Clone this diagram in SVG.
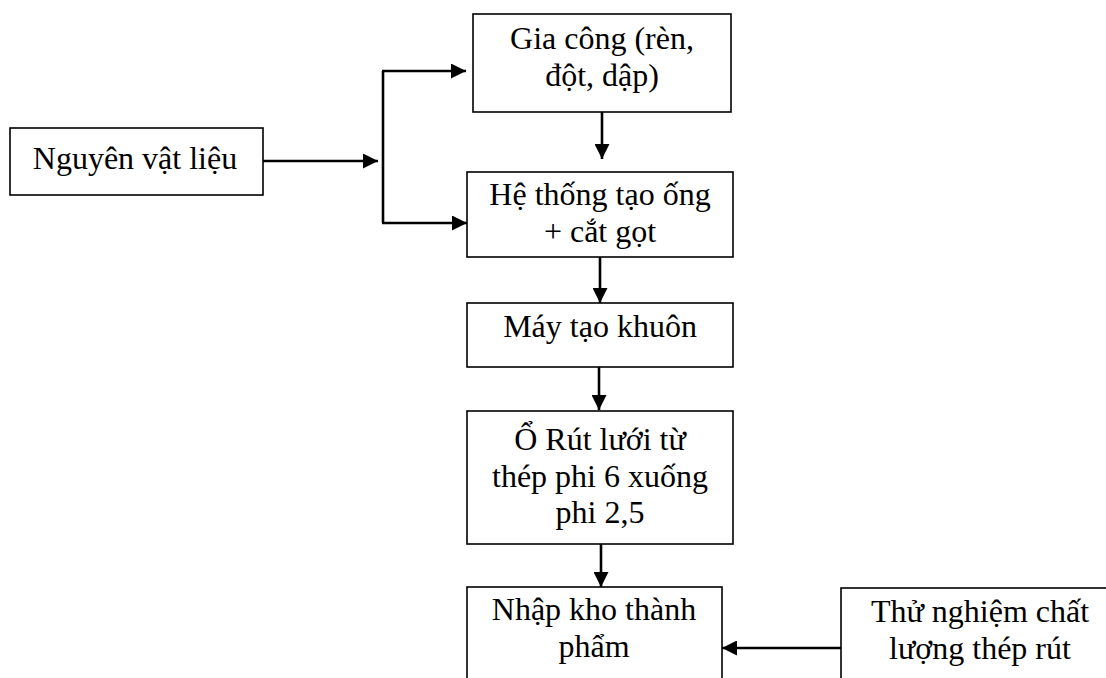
<svg xmlns="http://www.w3.org/2000/svg" width="1106" height="678" viewBox="0 0 1106 678">
<style>
.box{fill:#fff;stroke:#000;stroke-width:1.6}
.t{font-family:"Liberation Serif","Times New Roman",serif;font-size:32px;fill:#000;text-anchor:middle}
.c{fill:none;stroke:#000;stroke-width:2.6}
</style>
<defs>
<marker id="ah" markerUnits="userSpaceOnUse" markerWidth="15" markerHeight="15" refX="15" refY="7.5" orient="auto">
<path d="M0,0 L15,7.5 L0,15 z" fill="#000"/>
</marker>
</defs>
<rect width="1106" height="678" fill="#fff"/>
<g id="n1"><rect class="box" x="10" y="128" width="253" height="67"/><text class="t" x="135" y="169">Nguyên vật liệu</text></g>
<g id="n2"><rect class="box" x="473" y="14" width="258" height="98"/><text class="t" x="602" y="49">Gia công (rèn,</text><text class="t" x="602" y="86">đột, dập)</text></g>
<g id="n3"><rect class="box" x="467" y="172" width="266" height="85"/><text class="t" x="600" y="205">Hệ thống tạo ống</text><text class="t" x="600" y="242">+ cắt gọt</text></g>
<g id="n4"><rect class="box" x="467" y="303" width="266" height="64"/><text class="t" x="600" y="337">Máy tạo khuôn</text></g>
<g id="n5"><rect class="box" x="467" y="411" width="266" height="133"/><text class="t" x="600" y="450">Ổ Rút lưới từ</text><text class="t" x="600" y="487">thép phi 6 xuống</text><text class="t" x="600" y="523">phi 2,5</text></g>
<g id="n6"><rect class="box" x="467" y="587" width="255" height="110"/><text class="t" x="594" y="620">Nhập kho thành</text><text class="t" x="594" y="657">phẩm</text></g>
<g id="n7"><rect class="box" x="841" y="588" width="279" height="110"/><text class="t" x="980" y="622">Thử nghiệm chất</text><text class="t" x="980" y="659">lượng thép rút</text></g>
<g id="connectors">
<path class="c" d="M263,161 H378" marker-end="url(#ah)"/>
<path class="c" d="M383,71 V223"/>
<path class="c" d="M382,71 H466" marker-end="url(#ah)"/>
<path class="c" d="M382,223 H467" marker-end="url(#ah)"/>
<path class="c" d="M602,112 V159" marker-end="url(#ah)"/>
<path class="c" d="M600,257 V303" marker-end="url(#ah)"/>
<path class="c" d="M599,367 V410" marker-end="url(#ah)"/>
<path class="c" d="M601,544 V587" marker-end="url(#ah)"/>
<path class="c" d="M841,648 H722" marker-end="url(#ah)"/>
</g>
</svg>
